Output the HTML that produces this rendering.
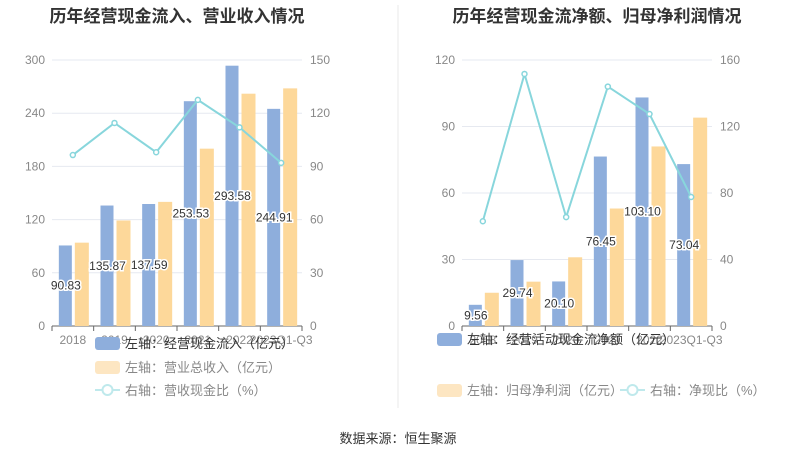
<!DOCTYPE html>
<html><head><meta charset="utf-8"><style>
body{margin:0;background:#fff;width:796px;height:459px;overflow:hidden;font-family:"Liberation Sans","Noto Sans CJK SC",sans-serif}
</style></head><body>
<svg id="s" width="796" height="459" xmlns="http://www.w3.org/2000/svg" font-family="Liberation Sans, Noto Sans CJK SC, sans-serif"></svg>
<script>
const s=document.getElementById('s');let h='';
h+='<line x1="398" y1="5" x2="398" y2="408" stroke="#e8e8e8"/>';
h+='<text x="177" y="22" font-size="17" font-weight="bold" text-anchor="middle" fill="#333">历年经营现金流入、营业收入情况</text>';
h+='<text x="597" y="22" font-size="17" font-weight="bold" text-anchor="middle" fill="#333">历年经营现金流净额、归母净利润情况</text>';
h+='<text x="398" y="443" font-size="13" text-anchor="middle" fill="#333">数据来源：恒生聚源</text>';
const cats=['2018','2019','2020','2021','2022','2023Q1-Q3'];
function chart(x0,x1,lmax,rmax,lt,rt,blue,orange,line,legs,legX,ly,leg3X,leg3Y){
 const y0=326,y1=60,step=(x1-x0)/6,n=lt.length-1;
 for(let i=0;i<=n;i++){const y=y0-(y0-y1)*i/n;
  if(i>0)h+=`<line x1="${x0}" y1="${y}" x2="${x1}" y2="${y}" stroke="#e6e9f0"/>`;
  h+=`<text x="${x0-7}" y="${y+4}" font-size="12" text-anchor="end" fill="#888">${lt[i]}</text>`;
  h+=`<text x="${x1+8}" y="${y+4}" font-size="12" fill="#888">${rt[i]}</text>`;}
 h+=`<line x1="${x0}" y1="${y0}" x2="${x1}" y2="${y0}" stroke="#666"/>`;
 let pts=[];
 cats.forEach((c,i)=>{const cx=x0+step*(i+0.5);
  const bh=blue[i]/lmax*(y0-y1),oh=orange[i]/lmax*(y0-y1);
  h+=`<rect x="${cx-14}" y="${y0-bh}" width="13" height="${bh}" fill="#8eaedc"/>`;
  h+=`<rect x="${cx+2}" y="${y0-oh}" width="14" height="${oh}" fill="#fdd89a"/>`;
  h+=`<line x1="${x0+step*i}" y1="${y0}" x2="${x0+step*i}" y2="${y0+5}" stroke="#666"/>`;
  h+=`<text x="${cx}" y="${y0+18}" font-size="12" text-anchor="middle" fill="#888">${c}</text>`;
  pts.push([cx,y0-line[i]/rmax*(y0-y1)]);});
 h+=`<line x1="${x1}" y1="${y0}" x2="${x1}" y2="${y0+5}" stroke="#666"/>`;
 h+=`<polyline points="${pts.map(p=>p.join(',')).join(' ')}" fill="none" stroke="#88d6dc" stroke-width="2"/>`;
 pts.forEach(p=>h+=`<circle cx="${p[0]}" cy="${p[1]}" r="2.5" fill="#fff" stroke="#88d6dc" stroke-width="1.5"/>`);
 cats.forEach((c,i)=>{const cx=x0+step*(i+0.5);const v=blue[i];
  const y=y0-v/lmax*(y0-y1)/2+4;
  h+=`<text x="${cx-7}" y="${y}" font-size="12" text-anchor="middle" fill="#333" stroke="#fff" stroke-width="3" paint-order="stroke">${v.toFixed(2)}</text>`;});
 h+=`<rect x="${legX}" y="${ly[0]-6}" width="25" height="13" rx="3" fill="#8eaedc"/><text x="${legX+30}" y="${ly[0]+5}" font-size="13" fill="#333">${legs[0]}</text>`;
 h+=`<rect x="${legX}" y="${ly[1]-6}" width="25" height="13" rx="3" fill="#fde6c2"/><text x="${legX+30}" y="${ly[1]+5}" font-size="13" fill="#888">${legs[1]}</text>`;
 h+=`<line x1="${leg3X}" y1="${leg3Y}" x2="${leg3X+25}" y2="${leg3Y}" stroke="#bfe9ec" stroke-width="2"/><circle cx="${leg3X+12.5}" cy="${leg3Y}" r="5" fill="#fff" stroke="#bfe9ec" stroke-width="2"/><text x="${leg3X+30}" y="${leg3Y+5}" font-size="13" fill="#888">${legs[2]}</text>`;
}
chart(52,302,300,150,[0,60,120,180,240,300],[0,30,60,90,120,150],
 [90.83,135.87,137.59,253.53,293.58,244.91],[94,119,140,200,262,268],[96.4,114.5,98,127.5,112,92],
 ['左轴：经营现金流入（亿元）','左轴：营业总收入（亿元）','右轴：营收现金比（%）'],95,[343,367],95,390);
chart(462,712,120,160,[0,30,60,90,120],[0,40,80,120,160],
 [9.56,29.74,20.10,76.45,103.10,73.04],[15,20,31,53,81,94],[63,151.6,65.5,144,127.5,77.6],
 ['左轴：经营活动现金流净额（亿元）','左轴：归母净利润（亿元）','右轴：净现比（%）'],437,[339,390],620,390);
s.innerHTML=h;
</script>
</body></html>
